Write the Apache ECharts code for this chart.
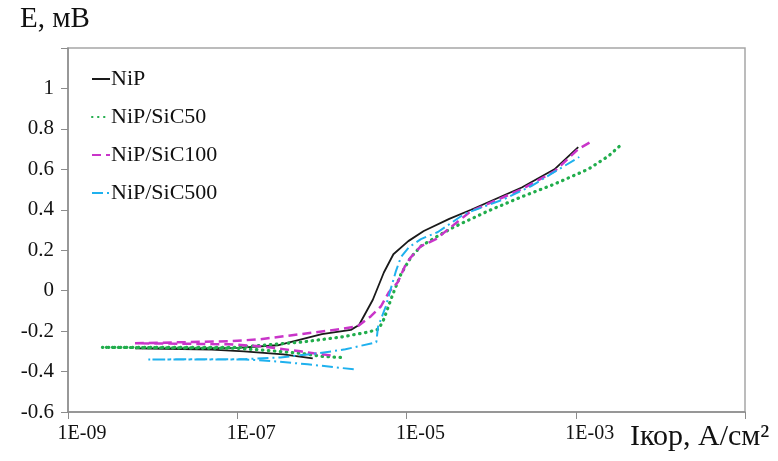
<!DOCTYPE html>
<html>
<head>
<meta charset="utf-8">
<script src="https://cdn.jsdelivr.net/npm/echarts@6/dist/echarts.min.js"></script>
<style>
  html, body { margin: 0; padding: 0; background: #fff; }
  #chart { width: 778px; height: 461px; }
</style>
</head>
<body>
<div id="chart"></div>
<script>
// струм, А/см2 і потенціал, В (кожна крива: катодна гілка справа наліво, потім анодна)
var nipI = [7.8e-7, 3.5e-7, 1.2e-7, 5e-8, 6.2e-9, 3e-8, 1e-7, 3e-7, 1e-6, 2.2e-6, 2.75e-6, 4e-6, 5.4e-6, 7e-6, 1.05e-5, 1.6e-5, 3.2e-5, 5.8e-5, 2.3e-4, 5.6e-4, 1.07e-3];
var nipE = [-0.335, -0.315, -0.3, -0.292, -0.285, -0.285, -0.283, -0.27, -0.215, -0.194, -0.17, -0.045, 0.09, 0.18, 0.245, 0.295, 0.355, 0.40, 0.51, 0.60, 0.71];

var sic50I = [1.66e-6, 1.0e-6, 5.6e-7, 2.7e-7, 1e-7, 2.5e-9, 1e-7, 5.6e-7, 1.66e-6, 3.5e-6, 4.7e-6, 5.4e-6, 6.9e-6, 8.6e-6, 1.13e-5, 1.48e-5, 2.23e-5, 3.6e-5, 9.2e-5, 2.26e-4, 5.6e-4, 1.41e-3, 2.44e-3, 3.3e-3];
var sic50E = [-0.33, -0.325, -0.31, -0.298, -0.285, -0.28, -0.28, -0.255, -0.23, -0.205, -0.19, -0.141, -0.017, 0.082, 0.166, 0.22, 0.265, 0.314, 0.394, 0.463, 0.527, 0.601, 0.666, 0.715];

var sic100I = [1.27e-6, 8e-7, 5.6e-7, 1.9e-7, 8e-8, 6.2e-9, 8.3e-8, 1.88e-7, 5.6e-7, 1.66e-6, 2.65e-6, 3.8e-6, 5.0e-6, 6.2e-6, 7.9e-6, 9.8e-6, 1.13e-5, 1.48e-5, 2.23e-5, 5.8e-5, 2.26e-4, 5.6e-4, 1.07e-3, 1.49e-3];
var sic100E = [-0.32, -0.31, -0.30, -0.275, -0.265, -0.26, -0.25, -0.24, -0.215, -0.19, -0.176, -0.126, -0.077, -0.007, 0.042, 0.13, 0.166, 0.22, 0.255, 0.394, 0.50, 0.59, 0.70, 0.735];

var sic500I = [2.38e-6, 6.8e-7, 2.7e-7, 1.09e-7, 8.9e-9, 1e-7, 3.25e-7, 8.9e-7, 1.9e-6, 4.4e-6, 4.6e-6, 5.7e-6, 6.5e-6, 7.5e-6, 8.6e-6, 1.07e-5, 1.48e-5, 2.35e-5, 4.8e-5, 1.43e-4, 2.98e-4, 5.6e-4, 1.1e-3];
var sic500E = [-0.389, -0.364, -0.349, -0.339, -0.34, -0.34, -0.33, -0.31, -0.29, -0.255, -0.18, -0.077, 0.007, 0.097, 0.166, 0.215, 0.255, 0.29, 0.379, 0.453, 0.517, 0.587, 0.661];

var seriesNames = ['NiP', 'NiP/SiC50', 'NiP/SiC100', 'NiP/SiC500'];

var serif = '"Liberation Serif", "Times New Roman", serif';

// вісь х - десятковий логарифм струму
function toPoints(iArr, eArr) {
    var pts = [];
    for (var k = 0; k < iArr.length; k++) {
        pts.push([Math.log10(iArr[k]), eArr[k]]);
    }
    return pts;
}

var chart = echarts.init(document.getElementById('chart'));

var option = {
    animation: false,
    grid: {
        left: 68,
        right: 33,
        top: 48,
        bottom: 49,
        show: true,
        borderColor: '#a6a6a6',
        borderWidth: 1.5
    },
    legend: {
        orient: 'vertical',
        left: 86,
        top: 63,
        itemWidth: 18,
        itemHeight: 14,
        itemGap: 16,
        data: seriesNames,
        itemStyle: { opacity: 0 },
        textStyle: {
            fontFamily: serif,
            fontSize: 22,
            color: '#111',
            padding: [0, 0, 0, -4]
        }
    },
    xAxis: {
        type: 'value',
        min: -9,
        max: -1,
        interval: 2,
        splitLine: { show: false },
        axisLine: { onZero: false, lineStyle: { color: '#8c8c8c', width: 1.5 } },
        axisTick: { show: true, inside: false, length: 7, lineStyle: { color: '#8c8c8c' } },
        axisLabel: {
            fontFamily: serif,
            fontSize: 20,
            color: '#111',
            margin: 12,
            padding: [0, 0, 0, 28],
            formatter: function (v) {
                if (v > -2) return '';
                return '1E-0' + Math.abs(v);
            }
        }
    },
    yAxis: {
        type: 'value',
        min: -0.6,
        max: 1.2,
        interval: 0.2,
        splitLine: { show: false },
        axisLine: { show: true, onZero: false, lineStyle: { color: '#8c8c8c', width: 1.5 } },
        axisTick: { show: true, inside: false, length: 7, lineStyle: { color: '#8c8c8c' } },
        axisLabel: {
            fontFamily: serif,
            fontSize: 21,
            color: '#111',
            margin: 14,
            formatter: function (v) {
                if (v > 1.1) return '';
                return String(Math.round(v * 10) / 10);
            }
        }
    },
    graphic: [
        {
            type: 'text',
            left: 20,
            top: 5,
            style: { text: 'E, мВ', fontFamily: serif, fontSize: 29, fill: '#111' }
        },
        {
            type: 'text',
            left: 630,
            top: 422,
            style: { text: 'Iкор, А/см²', fontFamily: serif, fontSize: 30, fill: '#111' }
        }
    ],
    series: [
        {
            name: 'NiP',
            type: 'line',
            symbol: 'none',
            data: toPoints(nipI, nipE),
            lineStyle: { color: '#1a1a1a', width: 1.8 },
            itemStyle: { color: '#1a1a1a' }
        },
        {
            name: 'NiP/SiC50',
            type: 'line',
            symbol: 'none',
            data: toPoints(sic50I, sic50E),
            lineStyle: { color: '#21ad4c', width: 3.2, type: [0.5, 5.5], cap: 'round' },
            itemStyle: { color: '#21ad4c' }
        },
        {
            name: 'NiP/SiC100',
            type: 'line',
            symbol: 'none',
            data: toPoints(sic100I, sic100E),
            lineStyle: { color: '#c935c9', width: 2.5, type: [9, 5] },
            itemStyle: { color: '#c935c9' }
        },
        {
            name: 'NiP/SiC500',
            type: 'line',
            symbol: 'none',
            data: toPoints(sic500I, sic500E),
            lineStyle: { color: '#1fb1ee', width: 2, type: [11, 4, 2, 4] },
            itemStyle: { color: '#1fb1ee' }
        }
    ]
};

chart.setOption(option);
</script>
</body>
</html>
